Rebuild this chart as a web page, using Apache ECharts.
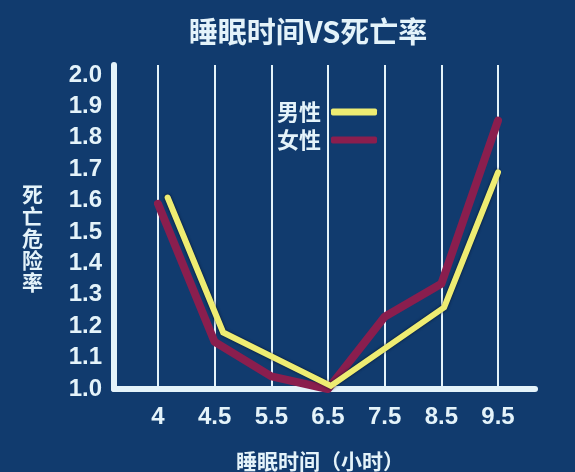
<!DOCTYPE html>
<html>
<head>
<meta charset="utf-8">
<script src="https://cdn.jsdelivr.net/npm/echarts@6/dist/echarts.min.js"></script>
<style>
  html, body { margin: 0; padding: 0; background: #113b6e; }
  #chart { width: 575px; height: 472px; }
</style>
</head>
<body>
<div id="chart"></div>
<script>
// Sleep duration categories (hours) shown along the bottom axis
var sleepHours = ['4', '4.5', '5.5', '6.5', '7.5', '8.5', '9.5'];

// Relative mortality risk, women: one reading per category
var femaleRisk = [1.59, 1.15, 1.04, 1.0, 1.23, 1.335, 1.855];

// Relative mortality risk, men: readings and where each sits along the hour axis
var maleAt   = [0.17, 1.15, 3.05, 5.05, 6.0];
var maleRisk = [1.61, 1.18, 1.01, 1.26, 1.69];

// Risk axis ticks
var riskMin = 1.0;
var riskTop = 2.0;
var riskStep = 0.1;

var ink = '#e4f3fa';
var font = '"Liberation Sans", Arial, "Noto Sans CJK SC", sans-serif';
var cjk = '"Noto Sans CJK SC", "Liberation Sans", sans-serif';

var femaleData = femaleRisk.map(function (v, i) { return [i, v]; });
var maleData = maleRisk.map(function (v, i) { return [maleAt[i], v]; });

var chart = echarts.init(document.getElementById('chart'), null, { renderer: 'canvas' });

chart.setOption({
  backgroundColor: '#113b6e',
  animation: false,
  title: {
    text: '睡眠时间VS死亡率',
    left: 303,
    textAlign: 'center',
    top: 12,
    textStyle: { color: ink, fontSize: 29, fontWeight: 'bold', fontFamily: cjk }
  },
  legend: {
    orient: 'vertical',
    align: 'right',
    left: 272,
    top: 96,
    itemGap: 6,
    itemWidth: 46,
    itemHeight: 7,
    icon: 'roundRect',
    textStyle: { color: ink, fontSize: 22, fontWeight: 'bold', fontFamily: cjk, padding: [0, 5, 0, 0] },
    data: ['男性', '女性']
  },
  grid: [
    // outer frame carrying the thick axis lines and the risk labels
    { left: 114, right: 40, top: 65, bottom: 83, outerBoundsMode: 'none' },
    // plotting area aligned to the hour categories
    { left: 158, right: 77, top: 65, bottom: 83, outerBoundsMode: 'none' }
  ],
  xAxis: [
    {
      gridIndex: 0, type: 'value', min: 0, max: 1,
      axisLine: { show: true, lineStyle: { color: ink, width: 6 } },
      axisTick: { show: false }, axisLabel: { show: false }, splitLine: { show: false }
    },
    {
      gridIndex: 1, type: 'value', min: 0, max: sleepHours.length - 1, interval: 1,
      axisLine: { show: false }, axisTick: { show: false },
      splitLine: { show: true, lineStyle: { color: ink, width: 2 } },
      axisLabel: {
        color: ink, fontSize: 24, fontWeight: 'bold', fontFamily: font, margin: 16,
        formatter: function (v) { return sleepHours[Math.round(v)]; }
      },
      name: '睡眠时间（小时）',
      nameLocation: 'middle',
      nameGap: 62,
      nameTextStyle: { color: ink, fontSize: 21, fontWeight: 'bold', fontFamily: cjk, padding: [0, 16, 0, 0] }
    }
  ],
  yAxis: [
    {
      gridIndex: 0, type: 'value', min: riskMin, max: riskTop + 0.032, interval: riskStep,
      axisLine: { show: true, lineStyle: { color: ink, width: 6 } },
      axisTick: { show: false }, splitLine: { show: false },
      axisLabel: {
        color: ink, fontSize: 24, fontWeight: 'bold', fontFamily: font, margin: 12,
        showMaxLabel: false,
        formatter: function (v) { return v <= riskTop + 1e-9 ? v.toFixed(1) : ''; }
      },
      name: '\n死\n亡\n危\n险\n率',
      nameLocation: 'middle',
      nameRotate: 0,
      nameGap: 71,
      nameTextStyle: { color: ink, fontSize: 21, fontWeight: 'bold', fontFamily: cjk, lineHeight: 22 }
    },
    {
      gridIndex: 1, type: 'value', min: riskMin, max: riskTop + 0.032,
      show: false, splitLine: { show: false }
    }
  ],
  series: [
    {
      name: '女性', type: 'line', xAxisIndex: 1, yAxisIndex: 1,
      data: femaleData, showSymbol: false, symbol: 'none',
      color: '#8a1e4e',
      lineStyle: { color: '#8a1e4e', width: 8, cap: 'round', join: 'round' },
      z: 3
    },
    {
      name: '男性', type: 'line', xAxisIndex: 1, yAxisIndex: 1,
      data: maleData, showSymbol: false, symbol: 'none',
      color: '#eeec72',
      lineStyle: {
        color: '#eeec72', width: 6, cap: 'round', join: 'miter',
        shadowColor: 'rgba(0,10,30,0.8)', shadowBlur: 3
      },
      z: 4
    }
  ]
});
</script>
</body>
</html>
